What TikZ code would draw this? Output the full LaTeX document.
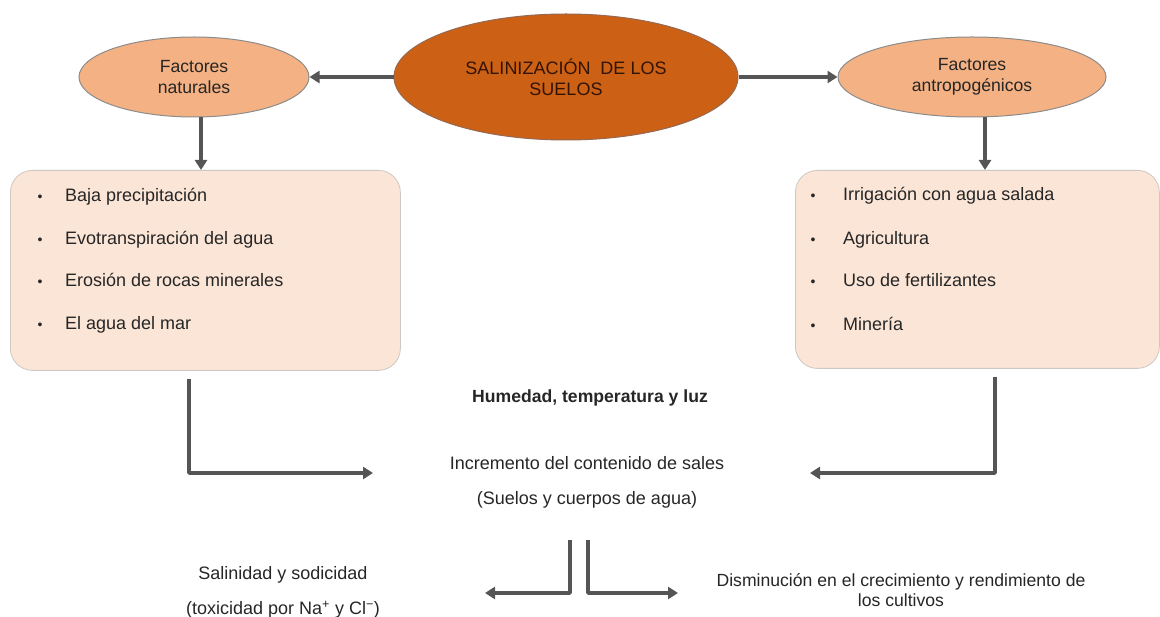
\documentclass[tikz,border=0pt]{standalone}
\usepackage{fontspec}
\setmainfont{Liberation Sans}
\usetikzlibrary{shapes.geometric,arrows.meta}
\definecolor{salfill}{RGB}{204,96,20}
\definecolor{salline}{RGB}{150,105,80}
\definecolor{sidefill}{RGB}{244,177,131}
\definecolor{ellline}{RGB}{140,140,140}
\definecolor{boxfill}{RGB}{251,229,214}
\definecolor{boxline}{RGB}{205,200,195}
\definecolor{arrgray}{RGB}{85,85,85}
\definecolor{txt}{RGB}{38,38,38}
\definecolor{titletxt}{RGB}{50,20,5}
\begin{document}
\begin{tikzpicture}[x=1pt,y=-1pt,
  every node/.style={font=\fontsize{18}{21}\selectfont, text=txt},
  ell/.style={ellipse, line width=1pt, inner sep=0pt, align=center},
  panel/.style={draw=boxline, fill=boxfill, rounded corners=22pt, line width=0.8pt, inner sep=0pt, anchor=north west},
  arr/.style={draw=arrgray, line width=3.4pt, line join=round, -{Triangle[length=10pt,width=12pt]}},
  item/.style={anchor=west, inner sep=0pt, text height=13pt, text depth=4pt},
  dot/.style={inner sep=0pt, font=\fontsize{14}{14}\selectfont, text height=9pt, text depth=0pt},
  plain/.style={inner sep=0pt, align=center}
]
\useasboundingbox (0,0) rectangle (1160,617);

% top ellipses
\node[ell, draw=salline, fill=salfill, minimum width=344pt, minimum height=126pt, text=titletxt,
      font=\fontsize{18}{21}\selectfont] (sal) at (566,77) {SALINIZACIÓN\ \ DE LOS\\SUELOS};
\node[ell, draw=ellline, fill=sidefill, minimum width=230pt, minimum height=80pt,
      font=\fontsize{17.6}{21}\selectfont] (nat) at (194,77) {Factores\\naturales};
\node[ell, draw=ellline, fill=sidefill, minimum width=268pt, minimum height=80pt,
      font=\fontsize{17.6}{21}\selectfont] (ant) at (972,77) {Factores\\antropogénicos};

% boxes
\node[panel, minimum width=390pt, minimum height=200pt] (lbox) at (10,170) {};
\node[panel, minimum width=364pt, minimum height=198pt] (rbox) at (795,170) {};

% left items
\node[dot] (ld1) at (40,197) {•}; \node[item] (lt1) at (65,197) {Baja precipitación};
\node[dot] (ld2) at (40,240) {•}; \node[item] (lt2) at (65,240) {Evotranspiración del agua};
\node[dot] (ld3) at (40,282) {•}; \node[item] (lt3) at (65,282) {Erosión de rocas minerales};
\node[dot] (ld4) at (40,325) {•}; \node[item] (lt4) at (65,325) {El agua del mar};

% right items
\node[dot] (rd1) at (813,196) {•}; \node[item] (rt1) at (843,196) {Irrigación con agua salada};
\node[dot] (rd2) at (813,240) {•}; \node[item] (rt2) at (843,240) {Agricultura};
\node[dot] (rd3) at (813,282) {•}; \node[item] (rt3) at (843,282) {Uso de fertilizantes};
\node[dot] (rd4) at (813,326) {•}; \node[item] (rt4) at (843,326) {Minería};

% middle texts
\node[plain, font=\fontsize{17.6}{21}\selectfont\bfseries] (hum) at (590,398) {Humedad, temperatura y luz};
\node[plain] (inc) at (587,463) {Incremento del contenido de sales};
\node[plain] (sue) at (587,500) {(Suelos y cuerpos de agua)};

% bottom texts
\node[plain] (sdc) at (283,575) {Salinidad y sodicidad};
\node[plain] (tox) at (283,610) {(toxicidad por Na\textsuperscript{+} y Cl\textsuperscript{−})};
\node[plain, font=\fontsize{17.6}{20}\selectfont] (dis) at (901,590) {Disminución en el crecimiento y rendimiento de\\los cultivos};

% coordinates for free ends
\coordinate (lA) at (189,379);
\coordinate (lB) at (373,473);
\coordinate (rA) at (995,377);
\coordinate (rB) at (810,473);
\coordinate (bA) at (570,540);
\coordinate (bB) at (485,593);
\coordinate (cA) at (588,540);
\coordinate (cB) at (678,593);

% connectors
\draw[arr] (sal.west) -- (nat.east);
\draw[arr] (sal.east) -- (ant.west);
\draw[arr] ([xshift=7pt]nat.south) -- ([xshift=7pt]nat.south |- lbox.north);
\draw[arr] ([xshift=13pt]ant.south) -- ([xshift=13pt]ant.south |- rbox.north);
\draw[arr] (lA) |- (lB);
\draw[arr] (rA) |- (rB);
\draw[arr] (bA) |- (bB);
\draw[arr] (cA) |- (cB);
\end{tikzpicture}
\end{document}
